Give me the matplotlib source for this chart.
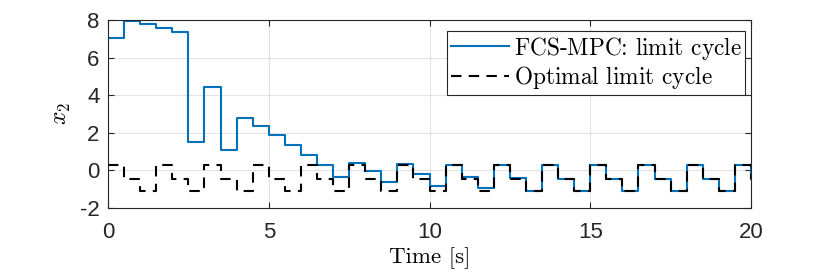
import matplotlib
matplotlib.use("Agg")
import matplotlib.pyplot as plt
import numpy as np

# sample times, 0.5 s steps
t = np.arange(0, 20.5, 0.5)

x2_fcs = [7.02, 7.96, 7.79, 7.59, 7.38, 1.49, 4.45, 1.09, 2.79, 2.34,
          1.87, 1.35, 0.82, 0.27, -0.33, 0.38, -0.03, -0.63, 0.34, -0.21,
          -0.81, 0.29, -0.37, -0.95, 0.29, -0.42, -1.08, 0.27, -0.46, -1.10,
          0.27, -0.47, -1.10, 0.27, -0.47, -1.10, 0.27, -0.47, -1.10, 0.27,
          -0.47]
x2_opt = [0.27, -0.47, -1.10, 0.27, -0.47, -1.10, 0.27, -0.47, -1.10, 0.27,
          -0.47, -1.10, 0.27, -0.47, -1.10, 0.27, -0.47, -1.10, 0.27, -0.47,
          -1.10, 0.27, -0.47, -1.10, 0.27, -0.47, -1.10, 0.27, -0.47, -1.10,
          0.27, -0.47, -1.10, 0.27, -0.47, -1.10, 0.27, -0.47, -1.10, 0.27,
          -0.47]

plt.rcParams['font.family'] = 'Liberation Sans'
plt.rcParams['mathtext.fontset'] = 'cm'

fig = plt.figure(figsize=(8.3, 2.77), dpi=100)
ax = fig.add_axes([108 / 830, 1 - 208 / 277, 643 / 830, 188 / 277])

# extra space at the right end of the legend entries, as in MATLAB
pad = r'$\hspace{0.8}$'
ax.step(t, x2_fcs, where='post', color='#0072BD', lw=1.5,
        label='FCS-MPC: limit cycle' + pad, zorder=2)
ax.step(t, x2_opt, where='post', color='black', lw=1.5, ls=(0, (5, 3.5)),
        label='Optimal limit cycle' + pad, zorder=3)

ax.set_xlim(0, 20)
ax.set_ylim(-2, 8)
ax.set_xticks([0, 5, 10, 15, 20])
ax.set_yticks([-2, 0, 2, 4, 6, 8])
ax.set_yticklabels(['-2', '0', '2', '4', '6', '8'])
ax.tick_params(direction='in', length=4, labelsize=16, colors='#262626',
               top=True, right=True)
ax.tick_params(axis='x', pad=10)
ax.tick_params(axis='y', pad=6)
ax.grid(True, color='#262626', alpha=0.12, lw=0.8)
for s in ax.spines.values():
    s.set_color('#262626')
    s.set_linewidth(0.8)

ax.set_xlabel('Time [s]', family='cmr10', fontsize=16.5, labelpad=3)
ax.set_ylabel(r'$x_2$', fontsize=17, labelpad=5)

leg = ax.legend(loc='upper right', prop={'family': 'cmr10', 'size': 16.8},
                bbox_to_anchor=(745 / 830, 1 - 31 / 277),
                bbox_transform=fig.transFigure, borderaxespad=0,
                handlelength=2.5, handletextpad=0.2, borderpad=0.15,
                labelspacing=0.12, fancybox=False, framealpha=1)
leg.get_frame().set_edgecolor('#262626')
leg.get_frame().set_linewidth(0.8)

fig.savefig('out.png', dpi=100)
